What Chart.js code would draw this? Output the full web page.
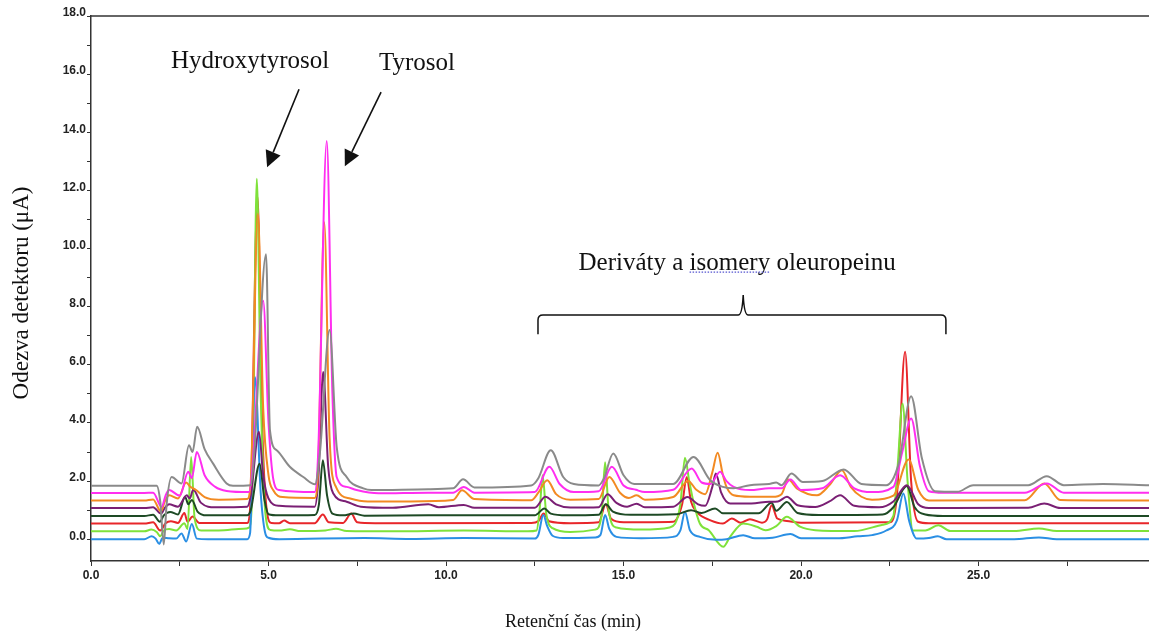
<!DOCTYPE html>
<html>
<head>
<meta charset="utf-8">
<script src="https://cdn.jsdelivr.net/npm/chart.js@4.4.1/dist/chart.umd.min.js"></script>
<style>
  html, body { margin: 0; padding: 0; background: #fff; }
  canvas { display: block; }
</style>
</head>
<body>
<canvas id="chromChart" width="1149" height="636"></canvas>
<script>
// tick positions and labels
const xTickValues = [0, 2.5, 5, 7.5, 10, 12.5, 15, 17.5, 20, 22.5, 25, 27.5];
const xTickLabels = ['0.0', '', '5.0', '', '10.0', '', '15.0', '', '20.0', '', '25.0', ''];
const yTickValues = [0, 1, 2, 3, 4, 5, 6, 7, 8, 9, 10, 11, 12, 13, 14, 15, 16, 17, 18];
const yTickLabels = ['0.0', '', '2.0', '', '4.0', '', '6.0', '', '8.0', '', '10.0', '', '12.0', '', '14.0', '', '16.0', '', '18.0'];

// traces: [time (min), response (uA)]
const blue = [[0,0],[1.5,0],[1.71,0.1],[1.82,0.02],[1.92,-0.16],[2.02,0.05],[2.2,0.03],[2.4,0.02],[2.55,0.2],[2.68,-0.08],[2.84,0.52],[2.98,0.02],[3.3,0],[4.4,0],[4.48,0.2],[4.62,5.57],[4.78,1.6],[4.9,0.25],[5.0,0.05],[5.3,0],[7.7,0.04],[9,0.01],[10.5,0.04],[12.5,0.02],[12.6,0.15],[12.74,0.83],[12.85,0.45],[13.0,0.12],[13.3,0.04],[14.2,0.06],[14.35,0.15],[14.48,0.83],[14.6,0.35],[14.8,0.08],[15.5,0.03],[16.4,0.08],[16.6,0.3],[16.73,0.94],[16.87,0.31],[17.15,0.08],[17.6,-0.02],[17.9,0.0],[18.37,0.14],[18.7,0.03],[19.2,0.05],[19.7,0.18],[20.0,0.03],[21.0,0.03],[21.6,0.1],[22.0,0.14],[22.4,0.3],[22.7,0.65],[22.88,1.57],[23.05,0.6],[23.26,0.02],[23.6,0.04],[23.85,0.1],[24.1,0.0],[26.0,0.0],[26.7,0.06],[27.2,0.0],[29.8,0.0]];
const green = [[0,0.27],[1.5,0.27],[1.7,0.33],[1.85,0.25],[1.95,0.1],[2.05,0.3],[2.2,0.35],[2.4,0.3],[2.63,0.55],[2.72,0.35],[2.82,2.83],[2.92,0.7],[3.1,0.3],[3.6,0.3],[4.3,0.36],[4.45,0.4],[4.55,2.0],[4.67,12.4],[4.78,5.0],[4.92,0.8],[5.05,0.32],[5.3,0.3],[5.6,0.34],[5.9,0.28],[6.6,0.3],[6.9,0.36],[7.2,0.28],[8.5,0.27],[10.5,0.3],[12.3,0.27],[12.55,0.3],[12.65,1.2],[12.72,2.2],[12.82,0.9],[13.0,0.38],[13.5,0.25],[14.2,0.33],[14.38,0.8],[14.48,2.65],[14.58,1.0],[14.8,0.4],[15.5,0.33],[16.3,0.4],[16.6,1.2],[16.73,2.8],[16.85,2.0],[16.97,1.28],[17.15,0.54],[17.4,0.31],[17.81,-0.26],[18.0,0.08],[18.37,0.54],[18.75,0.43],[19.0,0.31],[19.3,0.45],[19.6,0.77],[19.97,0.43],[20.4,0.31],[21.5,0.28],[22.3,0.5],[22.6,0.8],[22.72,2.5],[22.86,4.67],[23.0,2.0],[23.15,0.3],[23.5,0.3],[23.87,0.48],[24.2,0.28],[26.0,0.28],[26.7,0.37],[27.2,0.28],[29.8,0.28]];
const red = [[0,0.54],[1.5,0.54],[1.75,0.58],[1.95,0.3],[2.1,0.55],[2.25,0.62],[2.45,0.56],[2.63,0.9],[2.72,0.6],[2.86,0.78],[3.05,0.56],[4.4,0.56],[4.5,1.5],[4.69,11.8],[4.82,4.0],[4.95,1.0],[5.08,0.56],[5.3,0.55],[5.44,0.64],[5.6,0.55],[6.3,0.55],[6.53,0.85],[6.7,0.58],[7.1,0.56],[7.33,0.88],[7.5,0.58],[8.0,0.55],[12.4,0.56],[12.6,0.62],[12.75,0.88],[12.9,0.62],[13.5,0.55],[14.3,0.58],[14.5,1.2],[14.65,0.7],[15.0,0.58],[16.4,0.6],[16.65,1.2],[16.78,2.14],[16.9,1.3],[17.06,0.94],[17.45,0.65],[17.8,0.54],[18.05,0.71],[18.3,0.57],[18.56,0.69],[18.9,0.57],[19.05,0.7],[19.17,1.17],[19.33,0.71],[19.6,0.63],[20.0,0.57],[22.5,0.58],[22.7,1.5],[22.93,6.45],[23.1,2.0],[23.3,0.6],[23.6,0.55],[29.8,0.55]];
const darkGreen = [[0,0.8],[1.5,0.8],[1.75,0.84],[1.94,0.6],[2.05,0.82],[2.23,0.94],[2.45,0.85],[2.65,1.46],[2.74,1.2],[2.84,1.35],[3.0,0.95],[3.26,0.82],[4.4,0.82],[4.5,1.0],[4.75,2.6],[4.88,1.4],[5.0,0.86],[5.3,0.82],[6.3,0.83],[6.42,1.2],[6.53,2.72],[6.65,1.5],[6.8,0.88],[7.1,0.82],[7.4,0.88],[7.7,0.81],[9.5,0.82],[12.5,0.82],[12.77,1.06],[12.95,0.88],[13.4,0.82],[14.3,0.84],[14.5,1.2],[14.7,0.95],[15.2,0.84],[16.5,0.86],[16.9,1.0],[17.2,0.9],[17.58,1.06],[17.8,0.89],[18.8,0.89],[19.17,1.25],[19.3,0.98],[19.6,1.28],[19.9,0.9],[20.5,0.83],[22.3,0.85],[22.6,1.1],[22.98,1.83],[23.2,1.1],[23.5,0.85],[24,0.8],[29.8,0.8]];
const purple = [[0,1.07],[1.5,1.07],[1.75,1.1],[1.97,0.88],[2.08,1.08],[2.2,1.2],[2.45,1.12],[2.7,1.51],[2.78,1.4],[2.88,1.7],[3.1,1.25],[3.5,1.1],[4.4,1.12],[4.5,1.5],[4.73,3.7],[4.85,2.2],[5.0,1.4],[5.3,1.15],[6.3,1.12],[6.4,2.0],[6.54,5.75],[6.68,2.5],[6.82,1.58],[7.2,1.29],[7.6,1.12],[8.5,1.08],[9.5,1.2],[9.8,1.1],[10.5,1.18],[10.8,1.08],[12.5,1.08],[12.8,1.46],[13.1,1.2],[13.5,1.09],[14.3,1.1],[14.55,1.55],[14.8,1.25],[15.1,1.12],[15.37,1.22],[15.6,1.1],[16.4,1.12],[16.8,1.45],[17.1,1.2],[17.3,1.15],[17.5,1.8],[17.6,2.26],[17.75,1.6],[18.0,1.23],[18.6,1.23],[19.1,1.29],[19.35,1.3],[19.6,1.46],[19.9,1.17],[20.4,1.11],[20.8,1.3],[21.1,1.51],[21.5,1.15],[22.2,1.1],[22.6,1.3],[22.98,1.86],[23.3,1.2],[23.6,1.07],[26.4,1.08],[26.85,1.23],[27.3,1.07],[29.8,1.07]];
const orange = [[0,1.33],[1.5,1.33],[1.75,1.37],[1.97,0.95],[2.08,1.3],[2.2,1.51],[2.45,1.4],[2.68,1.95],[2.8,1.8],[2.95,1.7],[3.2,1.45],[3.6,1.36],[4.4,1.38],[4.5,2.0],[4.7,11.2],[4.85,4.5],[5.0,2.2],[5.13,1.69],[5.4,1.45],[6.3,1.42],[6.4,2.5],[6.57,10.9],[6.72,3.5],[6.9,1.8],[7.3,1.4],[7.8,1.3],[9.0,1.3],[10.2,1.35],[10.45,1.68],[10.8,1.38],[12.4,1.34],[12.6,1.6],[12.85,2.03],[13.1,1.55],[13.5,1.36],[14.3,1.38],[14.6,2.14],[14.9,1.6],[15.15,1.42],[15.37,1.51],[15.6,1.36],[16.4,1.45],[16.82,2.0],[17.05,1.7],[17.3,1.55],[17.5,2.3],[17.65,2.97],[17.8,2.2],[17.9,1.8],[18.1,1.51],[18.56,1.46],[19.2,1.46],[19.45,1.55],[19.64,2.05],[19.88,1.75],[20.45,1.51],[20.8,1.86],[21.15,2.37],[21.4,1.8],[21.7,1.46],[22.0,1.36],[22.6,1.5],[23.03,2.74],[23.3,1.7],[23.6,1.33],[26.3,1.34],[26.85,1.92],[27.3,1.35],[29.8,1.33]];
const magenta = [[0,1.59],[1.5,1.59],[1.75,1.6],[1.99,1.11],[2.1,1.5],[2.2,1.69],[2.5,1.5],[2.74,2.32],[2.84,2.1],[2.98,3.0],[3.2,2.2],[3.5,1.8],[3.82,1.66],[4.45,1.62],[4.55,2.5],[4.85,8.2],[5.0,4.0],[5.14,2.03],[5.3,1.69],[6.3,1.62],[6.4,3.0],[6.64,13.7],[6.8,5.0],[6.92,2.14],[7.2,1.8],[7.48,1.69],[8.1,1.58],[9.5,1.6],[10.2,1.6],[10.5,1.8],[10.8,1.6],[12.5,1.62],[12.91,2.49],[13.2,1.9],[13.6,1.62],[14.3,1.65],[14.67,2.49],[15.0,1.85],[15.35,1.7],[15.6,1.62],[16.4,1.7],[16.92,2.43],[17.2,1.95],[17.45,1.9],[17.72,2.32],[17.9,2.0],[18.1,1.8],[18.56,1.69],[19.1,1.75],[19.45,1.75],[19.7,2.05],[20.0,1.69],[20.6,1.75],[21.1,2.2],[21.5,1.75],[22.0,1.62],[22.6,1.8],[22.85,3.0],[23.1,4.15],[23.35,2.5],[23.6,1.65],[24,1.6],[26.3,1.6],[26.92,1.92],[27.4,1.6],[29.8,1.6]];
const gray = [[0,1.84],[1.85,1.84],[1.95,1.3],[2.05,-0.18],[2.13,1.2],[2.27,2.14],[2.55,1.92],[2.76,3.23],[2.86,3.0],[2.99,3.87],[3.2,3.1],[3.44,2.6],[3.82,1.92],[4.0,1.84],[4.5,1.86],[4.6,3.0],[4.93,9.8],[5.04,3.75],[5.23,3.06],[5.6,2.49],[5.98,2.14],[6.31,1.89],[6.45,3.0],[6.72,7.2],[6.92,3.18],[7.2,2.14],[7.67,1.75],[7.9,1.69],[9.5,1.72],[10.2,1.75],[10.48,2.06],[10.8,1.78],[12.4,1.85],[12.6,2.1],[12.95,3.06],[13.3,2.14],[13.6,1.9],[14.3,1.85],[14.45,2.1],[14.71,2.95],[15.0,2.2],[15.3,1.9],[16.4,1.9],[16.97,2.83],[17.44,2.03],[17.8,1.8],[18.1,1.75],[18.56,1.86],[19.1,1.9],[19.3,1.95],[19.45,1.86],[19.73,2.26],[20.05,1.97],[20.6,2.0],[21.2,2.4],[21.7,1.9],[22.4,1.86],[22.75,2.6],[23.1,4.92],[23.4,2.8],[23.77,1.65],[24.4,1.63],[24.85,1.86],[26.4,1.86],[26.92,2.17],[27.4,1.86],[28.5,1.9],[29.8,1.86]];

const toXY = pts => pts.map(([x, y]) => ({ x, y }));

function arrow(ctx, x1, y1, x2, y2) {
  const a = Math.atan2(y2 - y1, x2 - x1);
  const head = 16, half = 8;
  const bx = x2 - head * Math.cos(a), by = y2 - head * Math.sin(a);
  ctx.beginPath();
  ctx.moveTo(x1, y1);
  ctx.lineTo(bx, by);
  ctx.stroke();
  ctx.beginPath();
  ctx.moveTo(x2, y2);
  ctx.lineTo(bx + half * Math.sin(a), by - half * Math.cos(a));
  ctx.lineTo(bx - half * Math.sin(a), by + half * Math.cos(a));
  ctx.closePath();
  ctx.fill();
}

// labels, arrows, brace, axis titles and top frame line
const overlay = {
  id: 'overlay',
  afterDraw(chart) {
    const { ctx, chartArea: area, scales: { x, y } } = chart;
    const px = t => x.getPixelForValue(t);
    const py = v => y.getPixelForValue(v);
    ctx.save();

    ctx.strokeStyle = '#333';
    ctx.lineWidth = 1.5;
    ctx.beginPath();
    ctx.moveTo(area.left, area.top);
    ctx.lineTo(area.right, area.top);
    ctx.stroke();

    ctx.fillStyle = '#111';
    ctx.strokeStyle = '#111';
    ctx.textAlign = 'center';
    ctx.textBaseline = 'middle';
    ctx.font = '25px "Liberation Serif"';
    ctx.fillText('Hydroxytyrosol', px(4.48), py(16.45));
    ctx.fillText('Tyrosol', px(9.18), py(16.38));

    const deriv = 'Deriváty a isomery oleuropeinu';
    const dx = px(18.2), dy = py(9.5);
    ctx.fillText(deriv, dx, dy);
    // dotted spell-check underline under "isomery"
    const full = ctx.measureText(deriv).width;
    const pre = ctx.measureText('Deriváty a ').width;
    const word = ctx.measureText('isomery').width;
    ctx.save();
    ctx.strokeStyle = '#5555d0';
    ctx.lineWidth = 1.2;
    ctx.setLineDash([1.5, 1.5]);
    ctx.beginPath();
    ctx.moveTo(dx - full / 2 + pre, dy + 9);
    ctx.lineTo(dx - full / 2 + pre + word, dy + 9);
    ctx.stroke();
    ctx.restore();

    ctx.lineWidth = 1.6;
    arrow(ctx, px(5.86), py(15.48), px(4.96), py(12.8));
    arrow(ctx, px(8.17), py(15.38), px(7.15), py(12.83));

    // curly brace over the oleuropein region
    const L = px(12.59), R = px(24.08), C = px(18.37);
    const yh = py(7.71), ye = py(7.05), yt = py(8.4);
    ctx.lineWidth = 1.5;
    ctx.beginPath();
    ctx.moveTo(L, ye);
    ctx.lineTo(L, yh + 5);
    ctx.quadraticCurveTo(L, yh, L + 5, yh);
    ctx.lineTo(C - 5, yh);
    ctx.quadraticCurveTo(C - 1, yh, C, yt);
    ctx.quadraticCurveTo(C + 1, yh, C + 5, yh);
    ctx.lineTo(R - 5, yh);
    ctx.quadraticCurveTo(R, yh, R, yh + 5);
    ctx.lineTo(R, ye);
    ctx.stroke();

    // axis titles
    ctx.font = '18px "Liberation Serif"';
    ctx.fillText('Retenční čas (min)', 573, 622);
    ctx.save();
    ctx.translate(22, 293);
    ctx.rotate(-Math.PI / 2);
    ctx.font = '23px "Liberation Serif"';
    ctx.fillText('Odezva detektoru (μA)', 0, 0);
    ctx.restore();

    ctx.restore();
  }
};

const traces = [
  { data: gray, color: '#8a8a8a' },
  { data: magenta, color: '#ff2ef0' },
  { data: orange, color: '#f28a22' },
  { data: purple, color: '#7a1f74' },
  { data: darkGreen, color: '#1e4a25' },
  { data: blue, color: '#2a8fe4' },
  { data: green, color: '#7fe23a' },
  { data: red, color: '#e8262a' }
];

const ctx = document.getElementById('chromChart').getContext('2d');
const chromChart = new Chart(ctx, {
  type: 'line',
  data: {
    datasets: traces.map(tr => ({
      data: toXY(tr.data),
      borderColor: tr.color,
      borderWidth: 2,
      pointRadius: 0,
      fill: false,
      cubicInterpolationMode: 'monotone'
    }))
  },
  options: {
    responsive: false,
    animation: false,
    devicePixelRatio: 1,
    layout: { padding: { top: 16, right: 0, left: 0, bottom: 0 } },
    plugins: {
      legend: { display: false },
      tooltip: { enabled: false }
    },
    scales: {
      x: {
        type: 'linear',
        min: 0,
        max: 29.8,
        afterBuildTicks: s => { s.ticks = xTickValues.map(v => ({ value: v })); },
        afterFit: s => { s.height = 75; },
        ticks: {
          callback: (v, i) => xTickLabels[i],
          color: '#222',
          padding: 2,
          maxRotation: 0,
          autoSkip: false,
          font: { family: 'Liberation Sans', size: 12, weight: 'bold' }
        },
        grid: { display: true, drawOnChartArea: false, drawTicks: true, tickLength: 5, color: '#333' },
        border: { display: true, color: '#333', width: 1.5 }
      },
      y: {
        type: 'linear',
        min: -0.75,
        max: 18,
        afterBuildTicks: s => { s.ticks = yTickValues.map(v => ({ value: v })); },
        afterFit: s => { s.width = 91; },
        ticks: {
          callback: (v, i) => yTickLabels[i],
          color: '#222',
          padding: 1,
          labelOffset: -3,
          autoSkip: false,
          font: { family: 'Liberation Sans', size: 12, weight: 'bold' }
        },
        grid: { display: true, drawOnChartArea: false, drawTicks: true, tickLength: 4, color: '#333' },
        border: { display: true, color: '#333', width: 1.5 }
      }
    }
  },
  plugins: [overlay]
});
</script>
</body>
</html>
